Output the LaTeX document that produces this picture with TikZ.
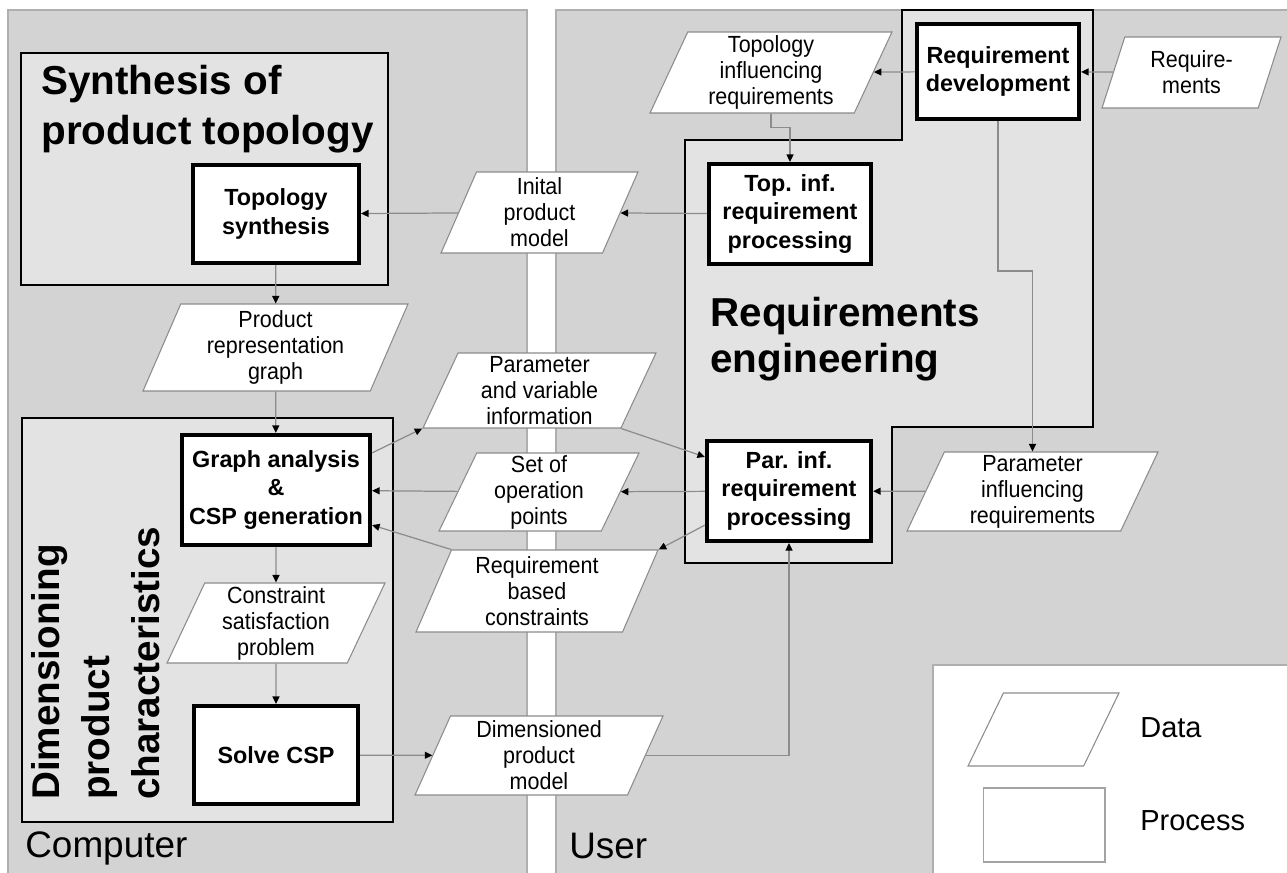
\documentclass[tikz,border=0pt]{standalone}
\usepackage{fontspec}
\setmainfont{Liberation Sans}
\newfontfamily\narrowsf{Liberation Sans}[FakeStretch=0.92]
\usetikzlibrary{shapes.geometric, arrows.meta, positioning, calc}

\definecolor{panelgray}{HTML}{D3D3D3}
\definecolor{framegray}{HTML}{E3E3E3}
\definecolor{linegray}{HTML}{8C8C8C}

\begin{document}
\begin{tikzpicture}[
    x=0.02cm, y=-0.02cm, % 1 unit = 1 px of the sketch
    process/.style={draw, rectangle, line width=2.4pt, fill=white, align=center, inner sep=1pt, font=\fontsize{13.3}{16}\selectfont\bfseries},
    data/.style={draw=linegray, line width=0.6pt, fill=white, trapezium, trapezium left angle=64, trapezium right angle=116, trapezium stretches body, align=center, inner sep=1pt, font=\fontsize{13.3}{14.8}\selectfont\narrowsf},
    frame/.style={draw, line width=1.1pt, fill=framegray},
    panel/.style={draw=linegray!70, line width=1pt, fill=panelgray},
    title/.style={align=left, inner sep=0pt, anchor=north west},
    arrow/.style={draw=linegray, line width=0.7pt, -{Triangle[length=1.5mm, width=1.4mm, color=black]}},
    side/.style={font=\fontsize{21}{25}\selectfont, inner sep=0pt, anchor=base west},
    legendtext/.style={font=\fontsize{16.5}{20}\selectfont, inner sep=0pt, anchor=base west}
]

\fill [white] (0,0) rectangle (1287,872);
\useasboundingbox (0,0) rectangle (1287,872);

% --- Fondos: Computer / User ---
\path [panel] (8,10) rectangle (527,890);
\path [panel] (556,10) rectangle (1300,890);
\path [draw=linegray!70, line width=1pt, fill=white] (933,665) rectangle (1300,890);

% --- Bloques ---
\path [frame] (21,53) rectangle (388,285);
\path [frame] (22,418) rectangle (393,822);
\path [frame] (902,10) -- (1093,10) -- (1093,427) -- (892,427) -- (892,563) -- (685,563) -- (685,140) -- (902,140) -- cycle;

\node [title, font=\fontsize{23}{28.5}\selectfont\bfseries] at (41,65) {Synthesis of\\product topology};
\node [title, font=\fontsize{23}{26}\selectfont\bfseries] at (710,297) {Requirements\\engineering};
\node [title, font=\fontsize{22}{28.5}\selectfont\bfseries, rotate=90] at (31,800) {Dimensioning\\product\\characteristics};

\node [side] at (25,857) {Computer};
\node [side] at (569,858) {User};

% --- Nodos ---
\node (reqdev) [process, minimum width=3.24cm, minimum height=1.90cm] at (998,71.5) {Requirement\\development};
\node (reqin) [data, minimum width=3.58cm, minimum height=1.42cm] at (1191.5,72.5) {Require-\\ments};
\node (tinfl) [data, minimum width=4.84cm, minimum height=1.62cm] at (771,72.5) {Topology\\influencing\\requirements};
\node (topinf) [process, minimum width=3.24cm, minimum height=2.00cm] at (790,214) {Top. inf.\\requirement\\processing};
\node (initmodel) [data, minimum width=3.94cm, minimum height=1.62cm] at (539.5,212.5) {Inital\\product\\model};
\node (topsyn) [process, minimum width=3.32cm, minimum height=1.96cm] at (276,214) {Topology\\synthesis};
\node (prgraph) [data, minimum width=5.30cm, minimum height=1.74cm] at (275.5,347.5) {Product\\representation\\graph};
\node (graphcsp) [process, minimum width=3.76cm, minimum height=2.20cm] at (276,490) {Graph analysis\\\&\\CSP generation};
\node (parvar) [data, minimum width=4.66cm, minimum height=1.50cm] at (539.5,390.5) {Parameter\\and variable\\information};
\node (oppoints) [data, minimum width=4.00cm, minimum height=1.56cm] at (539,492) {Set of\\operation\\points};
\node (reqcons) [data, minimum width=4.84cm, minimum height=1.64cm] at (537,591) {Requirement\\based\\constraints};
\node (parinf) [process, minimum width=3.28cm, minimum height=2.00cm] at (789,491) {Par. inf.\\requirement\\processing};
\node (parinfl) [data, minimum width=5.02cm, minimum height=1.58cm] at (1032.5,491.5) {Parameter\\influencing\\requirements};
\node (cspprob) [data, minimum width=4.36cm, minimum height=1.60cm] at (276,623) {Constraint\\satisfaction\\problem};
\node (solvecsp) [process, minimum width=3.28cm, minimum height=1.96cm] at (276,755) {Solve CSP};
\node (dimmodel) [data, minimum width=4.96cm, minimum height=1.58cm] at (539,755.5) {Dimensioned\\product\\model};

% --- Leyenda ---
\node (legdata) [data, text height=1.38cm, text depth=0pt, minimum width=3.02cm, minimum height=1.46cm] at (1043.5,729.5) {};
\node (legproc) [draw=linegray!80, line width=0.6pt, rectangle, fill=white, minimum width=2.44cm, minimum height=1.48cm] at (1044,825) {};
\node [legendtext] at (1140,737) {Data};
\node [legendtext] at (1140,830) {Process};

% --- Conexiones ---
\draw [arrow] (reqin) -- (reqdev);
\draw [arrow] (reqdev) -- (tinfl);
\draw [arrow] (tinfl.center |- tinfl.south) -- ++(0,14) -| (topinf.north);
\draw [arrow] (topinf) -- (initmodel);
\draw [arrow] (initmodel) -- (topsyn);
\draw [arrow] (topsyn) -- (prgraph);
\draw [arrow] (prgraph) -- (graphcsp);
\draw [arrow] ($(graphcsp.north east)+(0,20)$) -- (parvar.bottom left corner);
\draw [arrow] (parvar.bottom right corner) -- ($(parinf.north west)+(0,18)$);
\draw [arrow] (parinf) -- (oppoints);
\draw [arrow] (oppoints) -- (graphcsp);
\draw [arrow] ($(parinf.south west)+(0,-18)$) -- (reqcons.top right corner);
\draw [arrow] (reqcons.top left corner) -- ($(graphcsp.south east)+(0,-22)$);
\draw [arrow] (graphcsp) -- (cspprob);
\draw [arrow] (cspprob) -- (solvecsp);
\draw [arrow] (solvecsp) -- (dimmodel);
\draw [arrow] (dimmodel) -| (parinf);
\draw [arrow] (parinfl) -- (parinf);
\draw [arrow] (reqdev.south) -- ++(0,150) -| (parinfl.center |- parinfl.north);

\end{tikzpicture}
\end{document}
